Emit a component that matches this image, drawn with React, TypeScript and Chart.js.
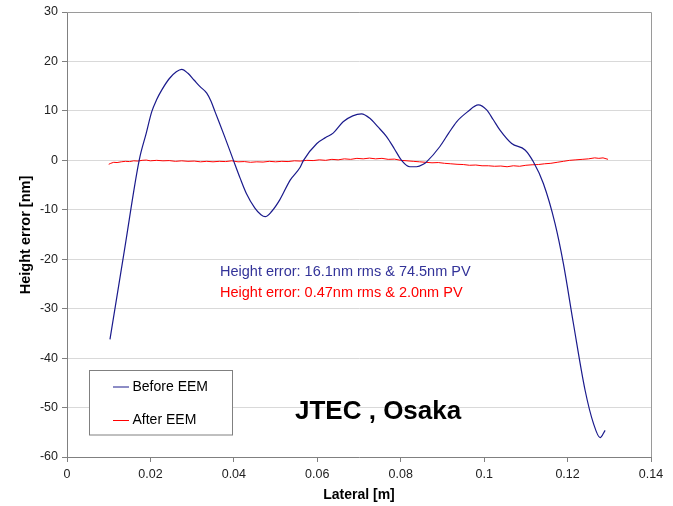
import React, { useEffect, useRef } from "react";
import { Chart, registerables } from "chart.js";

Chart.register(...registerables);

// Before EEM (x in m, y in nm)
const beforeX = [
  0.0103, 0.0138, 0.0173, 0.019, 0.0203, 0.0215, 0.0227, 0.0245, 0.0262, 0.0275,
  0.029, 0.0305, 0.0319, 0.0335, 0.0345, 0.0355, 0.0377, 0.0399, 0.0415, 0.043,
  0.045, 0.0465, 0.0475, 0.049, 0.051, 0.0535, 0.0559, 0.0567, 0.0599, 0.062,
  0.0638, 0.0662, 0.0685, 0.0706, 0.0726, 0.0745, 0.0766, 0.0785, 0.0802, 0.0822,
  0.0838, 0.0854, 0.0862, 0.0894, 0.0915, 0.0934, 0.096, 0.0986, 0.1006, 0.1022,
  0.1038, 0.1066, 0.1098, 0.1118, 0.1142, 0.117, 0.119, 0.1214, 0.1242, 0.1262,
  0.1278, 0.129,
];
const beforeY = [
  -36.2, -18, 0, 5.5, 9.8, 12.3, 14.2, 16.5, 17.9, 18.4,
  17.6, 16.2, 14.9, 13.6, 12.0, 9.8, 5.0, 0, -3.6, -6.7,
  -9.6, -11.0, -11.4, -10.4, -8.0, -4.0, -1.4, 0, 3.4, 4.6,
  5.5, 7.8, 9.0, 9.4, 8.5, 6.8, 4.8, 2.3, 0, -1.3,
  -1.3, -0.8, -0.3, 2.8, 5.5, 7.8, 9.8, 11.2, 10.2, 8.2,
  6.1, 3.4, 2.1, -0.3, -4.7, -12.8, -20.9, -33, -46.5, -53.2,
  -56.1, -54.6,
];

// After EEM
const afterX = [
  0.01, 0.0105, 0.0112, 0.012, 0.013, 0.014, 0.015, 0.016, 0.017, 0.018,
  0.019, 0.02, 0.0215, 0.023, 0.0245, 0.026, 0.0275, 0.029, 0.0305, 0.032,
  0.0335, 0.035, 0.0365, 0.038, 0.0395, 0.041, 0.0425, 0.044, 0.0455, 0.047,
  0.0485, 0.05, 0.0515, 0.053, 0.0545, 0.056, 0.0575, 0.059, 0.0605, 0.062,
  0.0635, 0.065, 0.0665, 0.068, 0.0695, 0.071, 0.0725, 0.074, 0.0755, 0.077,
  0.0785, 0.08, 0.0815, 0.083, 0.0845, 0.086, 0.0875, 0.089, 0.0905, 0.092,
  0.0935, 0.095, 0.0965, 0.098, 0.0995, 0.101, 0.1025, 0.104, 0.1055, 0.107,
  0.1085, 0.11, 0.1115, 0.113, 0.1145, 0.116, 0.1175, 0.119, 0.1205, 0.122,
  0.1235, 0.125, 0.1265, 0.1275, 0.1285, 0.1297,
];
const afterY = [
  -0.8, -0.6, -0.4, -0.45, -0.3, -0.2, -0.25, -0.1, -0.15, 0.0,
  0.05, -0.1, 0.0, -0.1, -0.05, -0.2, -0.1, -0.2, -0.15, -0.3,
  -0.2, -0.3, -0.2, -0.25, -0.1, -0.3, -0.25, -0.4, -0.3, -0.35,
  -0.2, -0.3, -0.2, -0.25, -0.1, -0.15, 0.0, -0.05, 0.1, 0.0,
  0.2, 0.1, 0.3, 0.2, 0.4, 0.3, 0.45, 0.3, 0.4, 0.2,
  0.25, 0.0, -0.1, -0.2, -0.3, -0.4, -0.5, -0.45, -0.6, -0.7,
  -0.8, -0.85, -1.0, -0.95, -1.1, -1.1, -1.2, -1.15, -1.3, -1.1,
  -1.2, -1.0, -0.9, -0.85, -0.7, -0.6, -0.4, -0.2, 0.0, 0.1,
  0.2, 0.3, 0.5, 0.4, 0.5, 0.2,
];

const xTickLabels = ["0", "0.02", "0.04", "0.06", "0.08", "0.1", "0.12", "0.14"];
const yTickLabels = ["-60", "-50", "-40", "-30", "-20", "-10", "0", "10", "20", "30"];

const seriesNames = ["Before EEM", "After EEM"];
const noteLines = [
  "Height error: 16.1nm rms & 74.5nm PV",
  "Height error: 0.47nm rms & 2.0nm PV",
];
const stampText = "JTEC , Osaka";
const xTitle = "Lateral [m]";
const yTitle = "Height error [nm]";

const BLUE = "#1a1a8c";
const RED = "#ff0000";
const SANS = "'Liberation Sans', Arial, sans-serif";

export default function App() {
  const ref = useRef<HTMLCanvasElement | null>(null);

  useEffect(() => {
    if (!ref.current) return;
    const overlay = {
      id: "overlay",
      afterDraw(chart: any) {
        const ctx = chart.ctx as CanvasRenderingContext2D;
        const a = chart.chartArea;
        ctx.save();
        // top & right plot border
        ctx.strokeStyle = "#9a9a9a";
        ctx.lineWidth = 1;
        ctx.beginPath();
        ctx.moveTo(a.left, a.top + 0.5);
        ctx.lineTo(a.right + 0.5, a.top + 0.5);
        ctx.lineTo(a.right + 0.5, a.bottom);
        ctx.stroke();

        // legend box
        ctx.fillStyle = "#ffffff";
        ctx.fillRect(89.5, 370.5, 143, 64.5);
        ctx.strokeStyle = "#808080";
        ctx.strokeRect(89.5, 370.5, 143, 64.5);
        const ly = [387, 420.5];
        const lc = [BLUE, RED];
        ctx.font = `14px ${SANS}`;
        ctx.textBaseline = "middle";
        ctx.textAlign = "left";
        for (let i = 0; i < 2; i++) {
          ctx.strokeStyle = lc[i];
          ctx.beginPath();
          ctx.moveTo(113, ly[i]);
          ctx.lineTo(129, ly[i]);
          ctx.stroke();
          ctx.fillStyle = "#000";
          ctx.fillText(seriesNames[i], 132.5, ly[i]);
        }

        // annotations
        ctx.font = `14.5px ${SANS}`;
        ctx.fillStyle = "#333399";
        ctx.fillText(noteLines[0], 220, 271.5);
        ctx.fillStyle = RED;
        ctx.fillText(noteLines[1], 220, 292.5);

        // stamp
        ctx.font = `bold 26px ${SANS}`;
        ctx.fillStyle = "#000";
        ctx.fillText(stampText, 295, 412);

        // axis titles
        ctx.font = `bold 14px ${SANS}`;
        ctx.textAlign = "center";
        ctx.fillText(xTitle, (a.left + a.right) / 2, 495);
        ctx.save();
        ctx.translate(26, 235);
        ctx.rotate(-Math.PI / 2);
        ctx.font = `bold 14.5px ${SANS}`;
        ctx.fillText(yTitle, 0, 0);
        ctx.restore();
        ctx.restore();
      },
    };

    const chart = new Chart(ref.current, {
      type: "line",
      data: {
        datasets: [
          {
            label: seriesNames[0],
            data: beforeX.map((x, i) => ({ x, y: beforeY[i] })),
            borderColor: BLUE,
            borderWidth: 1.2,
            pointRadius: 0,
            tension: 0.4,
            cubicInterpolationMode: "monotone",
            fill: false,
          },
          {
            label: seriesNames[1],
            data: afterX.map((x, i) => ({ x, y: afterY[i] })),
            borderColor: RED,
            borderWidth: 1,
            pointRadius: 0,
            tension: 0,
            fill: false,
          },
        ],
      },
      options: {
        responsive: false,
        animation: false,
        layout: { padding: { left: 0, top: 12, right: 22, bottom: 0 } },
        plugins: { legend: { display: false }, tooltip: { enabled: false } },
        scales: {
          x: {
            type: "linear",
            min: 0,
            max: 0.14,
            afterFit: (s: any) => {
              s.height = 49;
            },
            ticks: {
              stepSize: 0.02,
              color: "#222",
              font: { family: SANS, size: 12.5 },
              padding: 5,
              maxRotation: 0,
              autoSkip: false,
              callback: (_v: any, i: number) => xTickLabels[i],
            },
            grid: {
              drawOnChartArea: false,
              tickColor: "#808080",
              tickLength: 5,
            },
            border: { color: "#808080", width: 1 },
          },
          y: {
            type: "linear",
            min: -60,
            max: 30,
            afterFit: (s: any) => {
              s.width = 67;
            },
            ticks: {
              stepSize: 10,
              color: "#222",
              font: { family: SANS, size: 12.5 },
              padding: 4,
              autoSkip: false,
              callback: (_v: any, i: number) => yTickLabels[i],
            },
            grid: {
              color: "#d9d9d9",
              tickColor: "#808080",
              tickLength: 5,
            },
            border: { color: "#808080", width: 1 },
          },
        },
      },
      plugins: [overlay],
    } as any);
    return () => chart.destroy();
  }, []);

  return (
    <div style={{ position: "fixed", left: 0, top: 0, width: 673, height: 506, background: "#fff" }}>
      <canvas ref={ref} width={673} height={506} style={{ display: "block" }} />
    </div>
  );
}
